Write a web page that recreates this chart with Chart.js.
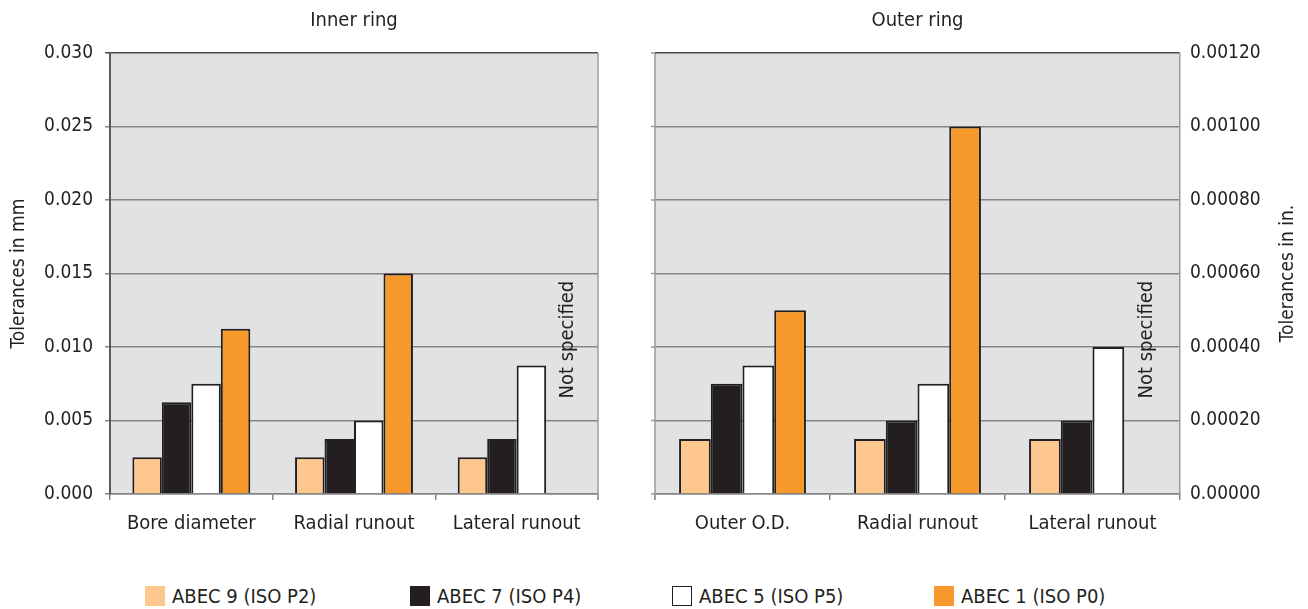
<!DOCTYPE html>
<html>
<head>
<meta charset="utf-8">
<script src="https://cdn.jsdelivr.net/npm/chart.js@4"></script>
<style>
  body { margin: 0; background: #fff; }
  #wrap { position: relative; width: 1308px; height: 609px; font-family: "Liberation Sans Narrow", "DejaVu Sans Condensed", sans-serif; color: #231f20; }
  #leftBox { position: absolute; left: 0; top: 0; width: 640px; height: 560px; }
  #rightBox { position: absolute; left: 640px; top: 0; width: 668px; height: 560px; }
  .leg { position: absolute; top: 584px; font-size: 20px; line-height: 24px; white-space: nowrap; }
  .leg span.sw { display: inline-block; width: 20px; height: 20px; vertical-align: -3px; margin-right: 7px; box-sizing: border-box; }
</style>
</head>
<body>
<div id="wrap">
  <div id="leftBox"><canvas id="innerChart"></canvas></div>
  <div id="rightBox"><canvas id="outerChart"></canvas></div>
  <div id="legend"></div>
</div>
<script>
// Tolerance data
const innerCategories = ['Bore diameter', 'Radial runout', 'Lateral runout'];
const outerCategories = ['Outer O.D.', 'Radial runout', 'Lateral runout'];
const seriesNames = ['ABEC 9 (ISO P2)', 'ABEC 7 (ISO P4)', 'ABEC 5 (ISO P5)', 'ABEC 1 (ISO P0)'];
const seriesColors = ['#fdc78e', '#231f20', '#ffffff', '#f7982a'];

// inner ring, mm
const innerAbec9 = [0.0025, 0.0025, 0.0025];
const innerAbec7 = [0.00625, 0.00375, 0.00375];
const innerAbec5 = [0.0075, 0.005, 0.00875];
const innerAbec1 = [0.01125, 0.015, null];

// outer ring, inches
const outerAbec9 = [0.00015, 0.00015, 0.00015];
const outerAbec7 = [0.0003, 0.0002, 0.0002];
const outerAbec5 = [0.00035, 0.0003, 0.0004];
const outerAbec1 = [0.0005, 0.001, null];

const mmTicks = [0, 0.005, 0.010, 0.015, 0.020, 0.025, 0.030];
const inTicks = [0, 0.0002, 0.0004, 0.0006, 0.0008, 0.0010, 0.0012];

const FONT = '"Liberation Sans Narrow", "DejaVu Sans Condensed", sans-serif';
const INK = '#231f20';
Chart.defaults.font.family = FONT;
Chart.defaults.color = INK;

function makeDatasets(rows) {
    return rows.map((d, i) => ({
        label: seriesNames[i],
        data: d,
        backgroundColor: seriesColors[i],
        borderColor: INK,
        borderWidth: 2,
        categoryPercentage: 0.725,
        barPercentage: 1
    }));
}

// plot background, panel title, extra edge lines and the "Not specified" note
const panelDecor = {
    id: 'panelDecor',
    beforeDraw(chart, args, opts) {
        const a = chart.chartArea, ctx = chart.ctx;
        ctx.save();
        ctx.fillStyle = '#e1e2e4';
        ctx.fillRect(a.left, a.top, a.right - a.left, a.bottom - a.top);
        ctx.restore();
    },
    afterDraw(chart, args, opts) {
        const a = chart.chartArea, ctx = chart.ctx;
        ctx.save();
        // light edge on the side without an axis
        ctx.strokeStyle = '#9a9a9a';
        ctx.lineWidth = 1.5;
        const ex = opts.lightEdge === 'left' ? a.left : a.right;
        ctx.beginPath(); ctx.moveTo(ex, a.top); ctx.lineTo(ex, a.bottom + 6); ctx.stroke();
        if (opts.lightEdge === 'left') {
            const ys = chart.scales.y;
            ys.ticks.forEach(t => {
                const py = ys.getPixelForValue(t.value);
                ctx.beginPath(); ctx.moveTo(a.left - 4, py); ctx.lineTo(a.left, py); ctx.stroke();
            });
        }
        // panel title
        ctx.fillStyle = INK;
        ctx.font = '20px ' + FONT;
        ctx.textAlign = 'center';
        ctx.textBaseline = 'middle';
        ctx.fillText(opts.title, (a.left + a.right) / 2, 21);
        // not specified note over the missing bar
        const bar = chart.getDatasetMeta(3).data[2];
        const nx = (bar ? bar.x : a.right - 20) + 7;
        const ny = a.bottom - 0.35 * (a.bottom - a.top);
        ctx.translate(nx, ny);
        ctx.rotate(-Math.PI / 2);
        ctx.fillText('Not specified', 0, 0);
        ctx.setTransform(1, 0, 0, 1, 0, 0);
        // rotated right axis title (reads bottom to top)
        if (opts.rightTitle) {
            ctx.font = '19px ' + FONT;
            ctx.translate(chart.width - 20, (a.top + a.bottom) / 2);
            ctx.rotate(-Math.PI / 2);
            ctx.fillText(opts.rightTitle, 0, 0);
        }
        ctx.restore();
    }
};

function gridColor(max) {
    return ctx => (ctx.tick && Math.abs(ctx.tick.value - max) < 1e-12) ? '#4a4a4a' : '#858585';
}

function xScale() {
    return {
        grid: { drawOnChartArea: false, drawTicks: true, tickLength: 6, color: '#858585', lineWidth: 1.5, offset: true },
        border: { color: '#858585', width: 1.5 },
        ticks: { font: { size: 20 }, color: INK, padding: 12, maxRotation: 0 },
        afterFit: s => { s.height = 40; }
    };
}

const innerChart = new Chart(document.getElementById('innerChart'), {
    type: 'bar',
    data: { labels: innerCategories, datasets: makeDatasets([innerAbec9, innerAbec7, innerAbec5, innerAbec1]) },
    options: {
        responsive: true, maintainAspectRatio: false, animation: false,
        layout: { padding: { top: 53, right: 42, bottom: 26, left: 0 } },
        plugins: {
            legend: { display: false }, tooltip: { enabled: false },
            panelDecor: { title: 'Inner ring', lightEdge: 'right' }
        },
        scales: {
            x: xScale(),
            y: {
                min: 0, max: 0.030,
                afterBuildTicks: s => { s.ticks = mmTicks.map(v => ({ value: v })); },
                ticks: { font: { size: 19 }, color: INK, padding: 12, callback: v => Number(v).toFixed(3) },
                grid: { color: gridColor(0.030), lineWidth: 1.5, tickLength: 5 },
                border: { color: '#5a5a5a', width: 2 },
                title: { display: true, text: 'Tolerances in mm', font: { size: 19 }, color: INK, padding: { top: 8, bottom: 0 } },
                afterFit: s => { s.width = 110; }
            }
        }
    },
    plugins: [panelDecor]
});

const outerChart = new Chart(document.getElementById('outerChart'), {
    type: 'bar',
    data: { labels: outerCategories, datasets: makeDatasets([outerAbec9, outerAbec7, outerAbec5, outerAbec1]) },
    options: {
        responsive: true, maintainAspectRatio: false, animation: false,
        layout: { padding: { top: 53, right: 0, bottom: 26, left: 15 } },
        plugins: {
            legend: { display: false }, tooltip: { enabled: false },
            panelDecor: { title: 'Outer ring', lightEdge: 'left', rightTitle: 'Tolerances in in.' }
        },
        scales: {
            x: xScale(),
            y: {
                position: 'right',
                min: 0, max: 0.0012,
                afterBuildTicks: s => { s.ticks = inTicks.map(v => ({ value: v })); },
                ticks: { font: { size: 19 }, color: INK, padding: 10, callback: v => Number(v).toFixed(5) },
                grid: { color: gridColor(0.0012), lineWidth: 1.5, drawTicks: false },
                border: { color: '#9a9a9a', width: 1.5 },
                afterFit: s => { s.width = 128; }
            }
        }
    },
    plugins: [panelDecor]
});

// shared legend below both panels
const legendX = [145, 410, 672, 934];
document.getElementById('legend').innerHTML = seriesNames.map((name, i) => {
    const border = seriesColors[i] === '#ffffff' ? `border:1.5px solid ${INK};` : '';
    return `<div class="leg" style="left:${legendX[i]}px"><span class="sw" style="background:${seriesColors[i]};${border}"></span>${name}</div>`;
}).join('');
</script>
</body>
</html>
